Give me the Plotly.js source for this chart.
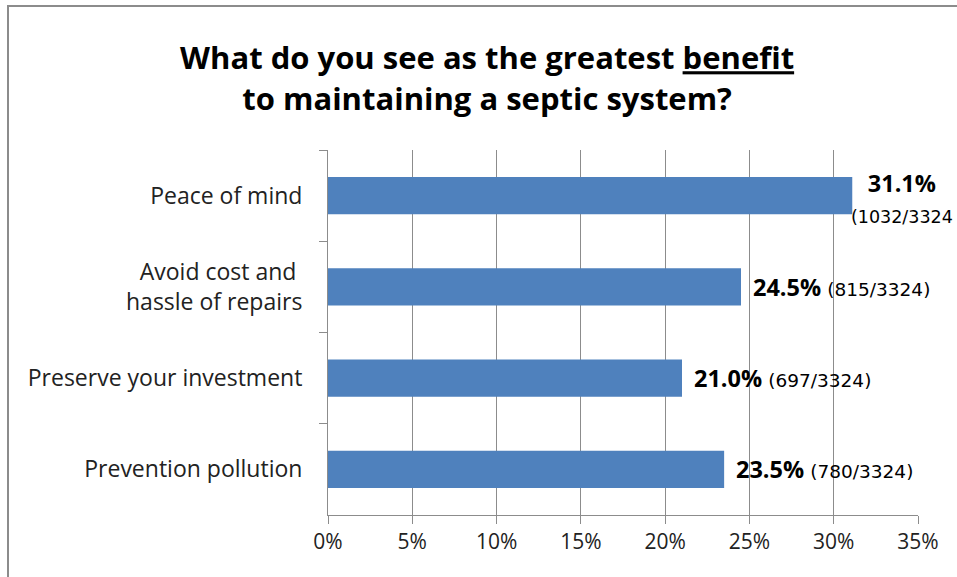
<!DOCTYPE html>
<html>
<head>
<meta charset="utf-8">
<script src="https://cdn.plot.ly/plotly-3.0.1.min.js"></script>
<style>
  html, body { margin: 0; padding: 0; background: #fff; }
  #wrap { position: relative; width: 957px; height: 577px; overflow: hidden; }
  #chart { width: 957px; height: 577px; }
  #frame { position: absolute; left: 7px; top: 5px; width: 960px; height: 600px;
           border-left: 2px solid #8c8c8c; border-top: 2px solid #8c8c8c; pointer-events: none; }
</style>
</head>
<body>
<div id="wrap">
  <div id="chart"></div>
  <div id="frame"></div>
</div>
<script>
const categories = ["Peace of mind", "Avoid cost and <br>hassle of repairs", "Preserve your investment", "Prevention pollution"];
const percents = [31.1, 24.5, 21.0, 23.5];
const counts = [1032, 815, 697, 780];
const total = 3324;
const xTickVals = [0, 5, 10, 15, 20, 25, 30, 35];
const xTickText = ["0%", "5%", "10%", "15%", "20%", "25%", "30%", "35%"];

const FONT = "'Open Sans', Lato, sans-serif";

const annotations = percents.map((p, i) => {
  const pct = "<b>" + p.toFixed(1) + "%</b>";
  const sz = i === 0 ? 17.5 : 18.5;
  const cnt = "<span style='font-size:" + sz + "px;font-family:DejaVu Sans'>(" + counts[i] + "/" + total + (i === 0 ? "" : ")") + "</span>";
  if (i === 0) {
    return {
      x: p, y: categories[i], xref: "x", yref: "y",
      text: pct + "<br>" + cnt, showarrow: false,
      xanchor: "left", yanchor: "middle", align: "center",
      xshift: -3, yshift: -1,
      font: { family: FONT, size: 23.5, color: "#000" }
    };
  }
  return {
    x: p, y: categories[i], xref: "x", yref: "y",
    text: pct + " " + cnt, showarrow: false,
    xanchor: "left", yanchor: "middle",
    xshift: 10,
    font: { family: FONT, size: 23.5, color: "#000" }
  };
});

const trace = {
  type: "bar",
  orientation: "h",
  x: percents,
  y: categories,
  marker: { color: "#4F81BD", line: { width: 0 } },
  hoverinfo: "none"
};

const layout = {
  width: 957,
  height: 577,
  margin: { l: 328, r: 39, t: 150, b: 62 },
  paper_bgcolor: "#fff",
  plot_bgcolor: "#fff",
  showlegend: false,
  bargap: 0.59,
  title: {
    text: "What do you see as the greatest <u>benefit</u><br>to maintaining a septic system?",
    font: { family: FONT, size: 31, color: "#000", weight: "bold" },
    x: 0.509, xanchor: "center",
    y: 0.88, yanchor: "middle"
  },
  xaxis: {
    range: [0, 35],
    tickvals: xTickVals,
    ticktext: xTickText,
    showgrid: true,
    gridcolor: "#8c8c8c",
    gridwidth: 1,
    showline: true,
    linecolor: "#8c8c8c",
    linewidth: 1,
    ticks: "outside",
    ticklen: 8,
    tickcolor: "#8c8c8c",
    zeroline: false,
    tickfont: { family: FONT, size: 21, color: "#222" },
    fixedrange: true
  },
  yaxis: {
    autorange: "reversed",
    type: "category",
    showline: true,
    linecolor: "#8c8c8c",
    linewidth: 1,
    ticks: "outside",
    tickson: "boundaries",
    ticklen: 8,
    tickcolor: "#8c8c8c",
    showgrid: false,
    ticklabelstandoff: 20,
    tickfont: { family: FONT, size: 23, color: "#222" },
    fixedrange: true
  },
  annotations: annotations
};

Plotly.newPlot("chart", [trace], layout, { staticPlot: true, displayModeBar: false });
</script>
</body>
</html>
